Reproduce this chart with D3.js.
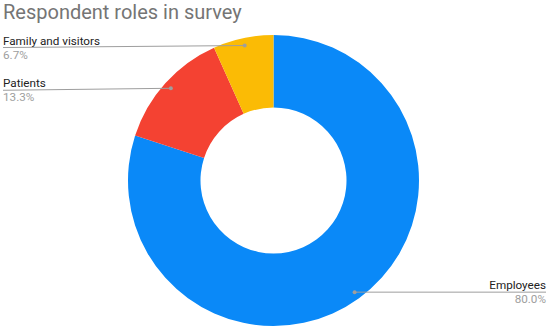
<!DOCTYPE html>
<html>
<head>
<meta charset="utf-8">
<script src="https://cdn.jsdelivr.net/npm/d3@7"></script>
<style>
  body { margin: 0; background: #fff; }
  svg { display: block; font-family: Roboto, Arial, sans-serif; }
</style>
</head>
<body>
<script>
const width = 550;
const height = 331;

const roles = ["Employees", "Patients", "Family and visitors"];
const shares = [80.0, 13.3, 6.7];
const colors = ["#0a89f8", "#f44232", "#fbbb05"];
// which side each label sits on
const sides = ["right", "left", "left"];

const cx = 273.5;
const cy = 180.5;
const outer = 145.5;
const inner = 73;

const svg = d3
  .select("body")
  .append("svg")
  .attr("width", width)
  .attr("height", height);

svg
  .append("text")
  .attr("x", 3)
  .attr("y", 19)
  .style("font-size", "20px")
  .style("fill", "#757575")
  .text("Respondent roles in survey");

const pie = d3.pie().sort(null).value((d) => d.value);
const arcs = pie(roles.map((r, i) => ({ role: r, value: shares[i], i })));

const arc = d3.arc().innerRadius(inner).outerRadius(outer);
const dotArc = d3.arc().innerRadius(138).outerRadius(138);

const g = svg.append("g").attr("transform", `translate(${cx}, ${cy})`);

g.selectAll("path")
  .data(arcs)
  .enter()
  .append("path")
  .attr("d", arc)
  .attr("fill", (d) => colors[d.data.i]);

const labels = svg.append("g");

arcs.forEach((d) => {
  const [dx, dy] = dotArc.centroid(d);
  const px = cx + dx;
  const py = cy + dy;
  const left = sides[d.data.i] === "left";
  const tx = left ? 3 : 546;
  const lineY = left ? py + 2 : py;

  labels
    .append("line")
    .attr("x1", px)
    .attr("y1", py)
    .attr("x2", tx)
    .attr("y2", lineY)
    .attr("stroke", "#9e9e9e")
    .attr("stroke-width", 1);

  labels
    .append("circle")
    .attr("cx", px)
    .attr("cy", py)
    .attr("r", 2)
    .attr("fill", "#9e9e9e");

  labels
    .append("text")
    .attr("x", tx)
    .attr("y", lineY - 3)
    .attr("text-anchor", left ? "start" : "end")
    .style("font-size", "11.7px")
    .style("fill", "#222")
    .text(d.data.role);

  labels
    .append("text")
    .attr("x", tx)
    .attr("y", lineY + 11)
    .attr("text-anchor", left ? "start" : "end")
    .style("font-size", "11.7px")
    .style("fill", "#9e9e9e")
    .text(d3.format(".1f")(d.data.value) + "%");
});
</script>
</body>
</html>
